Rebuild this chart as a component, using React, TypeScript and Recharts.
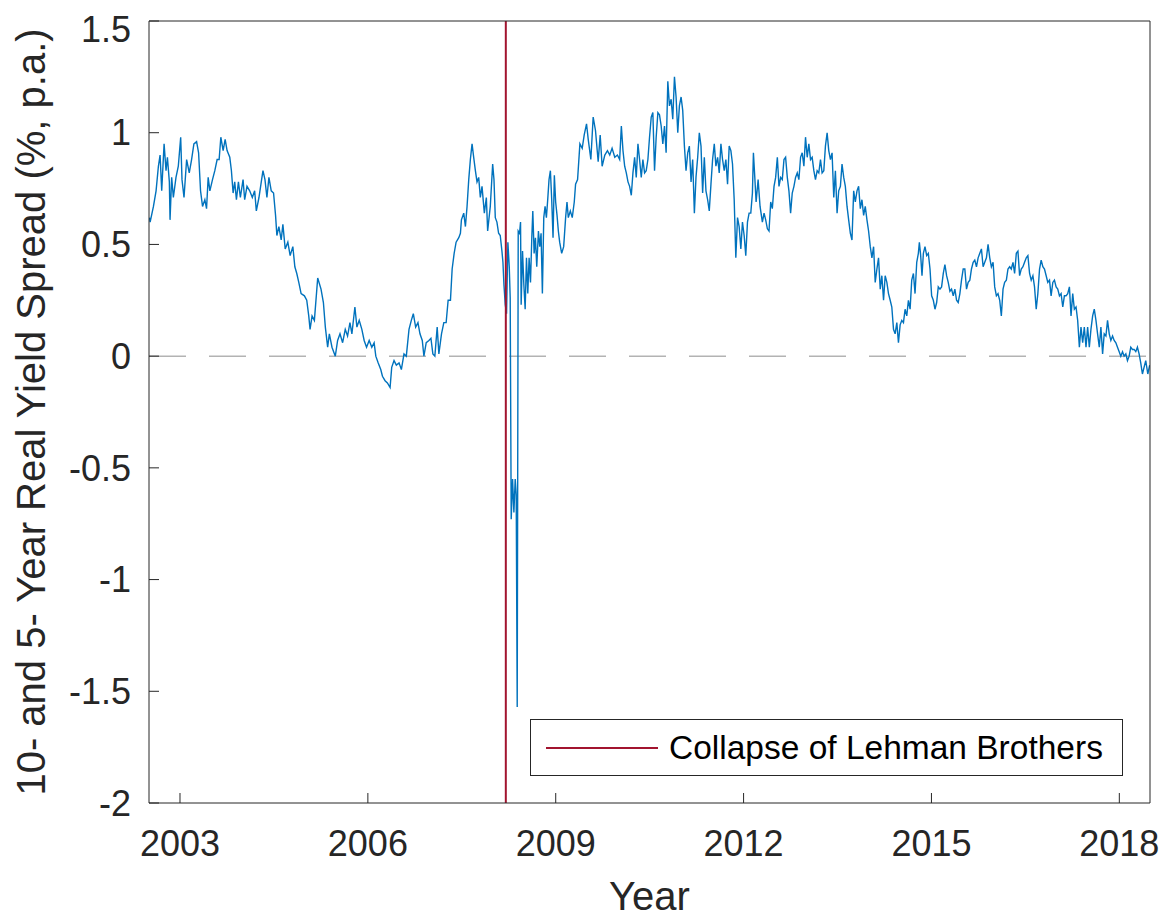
import { LineChart, Line, XAxis, YAxis, ReferenceLine, Legend } from 'recharts';

const FONT = '"Liberation Sans", Arial, Helvetica, sans-serif';
const AXIS_COLOR = '#262626';
const SPREAD_COLOR = '#0072BD';
const LEHMAN_COLOR = '#A2142F';

const yearTicks = [2003, 2006, 2009, 2012, 2015, 2018];
const spreadTicks = [-2, -1.5, -1, -0.5, 0, 0.5, 1, 1.5];
const yearDomain = [2002.505, 2018.49];
const spreadDomain = [-2, 1.5];
const lehmanCollapse = 2008.203;

// [decimal year, spread in % p.a.]
const spread2002to2005: [number, number][] = [
  [2002.512, 0.62], [2002.523, 0.6], [2002.576, 0.67], [2002.618, 0.74], [2002.655, 0.85],
  [2002.682, 0.9], [2002.708, 0.74], [2002.746, 0.95], [2002.777, 0.83], [2002.799, 0.89],
  [2002.83, 0.78], [2002.841, 0.61], [2002.867, 0.8], [2002.894, 0.71], [2002.936, 0.8],
  [2002.973, 0.85], [2003.011, 0.98], [2003.032, 0.79], [2003.064, 0.71], [2003.106, 0.88],
  [2003.148, 0.82], [2003.185, 0.88], [2003.222, 0.95], [2003.265, 0.96], [2003.297, 0.91],
  [2003.328, 0.74], [2003.36, 0.67], [2003.397, 0.7], [2003.424, 0.66], [2003.45, 0.8],
  [2003.477, 0.74], [2003.519, 0.79], [2003.556, 0.83], [2003.593, 0.88], [2003.625, 0.88],
  [2003.652, 0.98], [2003.689, 0.92], [2003.721, 0.97], [2003.752, 0.92], [2003.795, 0.89],
  [2003.821, 0.83], [2003.848, 0.73], [2003.874, 0.78], [2003.901, 0.7], [2003.933, 0.78],
  [2003.964, 0.71], [2004.007, 0.79], [2004.033, 0.7], [2004.07, 0.76], [2004.113, 0.74],
  [2004.155, 0.71], [2004.192, 0.74], [2004.219, 0.65], [2004.261, 0.71], [2004.298, 0.78],
  [2004.325, 0.83], [2004.357, 0.79], [2004.388, 0.71], [2004.42, 0.8], [2004.457, 0.74],
  [2004.494, 0.73], [2004.526, 0.63], [2004.547, 0.54], [2004.579, 0.58], [2004.616, 0.52],
  [2004.643, 0.59], [2004.68, 0.48], [2004.722, 0.51], [2004.759, 0.45], [2004.802, 0.49],
  [2004.834, 0.4], [2004.865, 0.37], [2004.897, 0.33], [2004.934, 0.28], [2004.987, 0.27],
  [2005.024, 0.25], [2005.056, 0.18], [2005.077, 0.12], [2005.109, 0.18], [2005.146, 0.16],
];

const spread2005to2007: [number, number][] = [
  [2005.199, 0.35], [2005.252, 0.3], [2005.29, 0.24], [2005.321, 0.13], [2005.358, 0.04],
  [2005.385, 0.1], [2005.427, 0.04], [2005.48, 0.0], [2005.517, 0.07], [2005.555, 0.1],
  [2005.597, 0.06], [2005.639, 0.12], [2005.676, 0.09], [2005.714, 0.15], [2005.745, 0.1],
  [2005.793, 0.22], [2005.825, 0.13], [2005.862, 0.16], [2005.904, 0.12], [2005.941, 0.07],
  [2005.979, 0.04], [2006.021, 0.07], [2006.063, 0.04], [2006.1, 0.06], [2006.127, 0.0],
  [2006.164, -0.03], [2006.206, -0.06], [2006.233, -0.09], [2006.275, -0.11], [2006.312, -0.12],
  [2006.355, -0.14], [2006.381, -0.05], [2006.418, -0.02], [2006.455, -0.04], [2006.498, -0.03],
  [2006.535, -0.06], [2006.577, 0.01], [2006.614, 0.0], [2006.657, 0.12], [2006.694, 0.16],
  [2006.726, 0.19], [2006.763, 0.13], [2006.8, 0.15], [2006.832, 0.1], [2006.869, 0.07],
  [2006.895, 0.0], [2006.932, 0.06], [2006.975, 0.07], [2007.007, 0.08], [2007.038, 0.01],
  [2007.07, 0.0], [2007.107, 0.13], [2007.134, 0.01], [2007.176, 0.1], [2007.213, 0.15],
  [2007.25, 0.15], [2007.282, 0.25], [2007.319, 0.25], [2007.346, 0.39], [2007.378, 0.46],
  [2007.409, 0.51], [2007.452, 0.53], [2007.478, 0.55], [2007.494, 0.61], [2007.531, 0.64],
  [2007.558, 0.58], [2007.584, 0.67], [2007.611, 0.79], [2007.637, 0.88], [2007.664, 0.95],
  [2007.69, 0.89], [2007.717, 0.83], [2007.743, 0.78], [2007.77, 0.8], [2007.796, 0.71],
  [2007.823, 0.76], [2007.86, 0.64], [2007.892, 0.71], [2007.913, 0.56],
];

const spread2008to2009: [number, number][] = [
  [2007.955, 0.67], [2007.993, 0.86], [2008.014, 0.79], [2008.035, 0.62], [2008.061, 0.6],
  [2008.088, 0.55], [2008.114, 0.54], [2008.141, 0.47], [2008.157, 0.42], [2008.173, 0.32],
  [2008.194, 0.23], [2008.215, 0.19], [2008.236, 0.51], [2008.258, 0.4], [2008.273, 0.26],
  [2008.289, -0.73], [2008.311, -0.55], [2008.332, -0.7], [2008.353, -0.55], [2008.369, -0.62],
  [2008.385, -1.57], [2008.401, 0.56], [2008.422, 0.55], [2008.438, 0.6], [2008.448, 0.23],
  [2008.47, 0.47], [2008.491, 0.32], [2008.512, 0.21], [2008.533, 0.44], [2008.554, 0.28],
  [2008.575, 0.44], [2008.597, 0.33], [2008.618, 0.53], [2008.634, 0.65], [2008.655, 0.46],
  [2008.676, 0.53], [2008.697, 0.4], [2008.724, 0.56], [2008.745, 0.49], [2008.766, 0.55],
  [2008.787, 0.28], [2008.809, 0.62], [2008.83, 0.67], [2008.851, 0.62], [2008.872, 0.7],
  [2008.893, 0.79], [2008.915, 0.83], [2008.936, 0.7], [2008.957, 0.53], [2008.978, 0.81],
  [2008.999, 0.69], [2009.021, 0.63], [2009.042, 0.56], [2009.063, 0.51], [2009.095, 0.46],
  [2009.127, 0.49], [2009.158, 0.62], [2009.18, 0.69], [2009.201, 0.62], [2009.233, 0.65],
  [2009.264, 0.62], [2009.296, 0.69], [2009.317, 0.77], [2009.349, 0.79], [2009.386, 0.95],
  [2009.423, 0.93], [2009.455, 0.99], [2009.492, 1.04], [2009.519, 0.97], [2009.561, 0.88],
  [2009.598, 1.07], [2009.635, 1.01], [2009.678, 0.87], [2009.71, 0.99], [2009.741, 0.85],
  [2009.784, 0.9], [2009.826, 0.92], [2009.863, 0.9], [2009.9, 0.93], [2009.943, 0.89],
  [2009.985, 0.9],
];

const spread2010to2012: [number, number][] = [
  [2010.021, 0.88], [2010.048, 1.03], [2010.074, 0.92], [2010.101, 0.85], [2010.127, 0.82],
  [2010.154, 0.78], [2010.18, 0.76], [2010.207, 0.72], [2010.233, 0.82], [2010.26, 0.89],
  [2010.286, 0.8], [2010.313, 0.95], [2010.339, 0.88], [2010.366, 0.8], [2010.392, 0.88],
  [2010.419, 0.82], [2010.445, 0.83], [2010.472, 0.88], [2010.498, 0.98], [2010.525, 1.07],
  [2010.551, 1.09], [2010.578, 0.83], [2010.604, 0.98], [2010.631, 1.09], [2010.657, 1.08],
  [2010.684, 1.03], [2010.71, 0.95], [2010.737, 1.03], [2010.763, 0.91], [2010.79, 1.23],
  [2010.816, 1.12], [2010.843, 1.15], [2010.869, 1.06], [2010.896, 1.25], [2010.922, 1.16],
  [2010.949, 1.0], [2010.975, 1.12], [2011.002, 1.16], [2011.028, 1.1], [2011.055, 0.94],
  [2011.081, 0.83], [2011.108, 0.91], [2011.134, 0.94], [2011.161, 0.78], [2011.187, 0.88],
  [2011.214, 0.64], [2011.24, 0.8], [2011.267, 0.89], [2011.293, 1.0], [2011.32, 0.94],
  [2011.346, 0.73], [2011.373, 0.89], [2011.399, 0.74], [2011.426, 0.7], [2011.452, 0.65],
  [2011.479, 0.77], [2011.505, 0.88], [2011.532, 0.95], [2011.558, 0.85], [2011.585, 0.89],
  [2011.611, 0.82], [2011.638, 0.95], [2011.664, 0.88], [2011.691, 0.83], [2011.717, 0.88],
  [2011.744, 0.77], [2011.77, 0.94], [2011.797, 0.92], [2011.823, 0.86], [2011.85, 0.7],
  [2011.876, 0.44], [2011.903, 0.62], [2011.929, 0.58], [2011.956, 0.48], [2011.982, 0.6],
  [2012.009, 0.54], [2012.035, 0.45], [2012.062, 0.6], [2012.088, 0.64], [2012.115, 0.64],
  [2012.141, 0.73],
];

const spread2012to2015: [number, number][] = [
  [2012.157, 0.91], [2012.179, 0.8], [2012.2, 0.69], [2012.232, 0.79], [2012.263, 0.67],
  [2012.3, 0.6], [2012.327, 0.64], [2012.353, 0.61], [2012.38, 0.57], [2012.406, 0.56],
  [2012.433, 0.69], [2012.459, 0.66], [2012.486, 0.76], [2012.512, 0.8], [2012.539, 0.89],
  [2012.565, 0.76], [2012.592, 0.8], [2012.618, 0.79], [2012.645, 0.88], [2012.671, 0.89],
  [2012.698, 0.8], [2012.724, 0.74], [2012.751, 0.64], [2012.777, 0.73], [2012.804, 0.76],
  [2012.83, 0.8], [2012.857, 0.82], [2012.883, 0.79], [2012.91, 0.89], [2012.936, 0.91],
  [2012.963, 0.85], [2012.989, 0.98], [2013.016, 0.89], [2013.042, 0.95], [2013.069, 0.88],
  [2013.095, 0.89], [2013.122, 0.83], [2013.148, 0.79], [2013.175, 0.83], [2013.201, 0.82],
  [2013.228, 0.88], [2013.254, 0.82], [2013.281, 0.83], [2013.307, 0.94], [2013.334, 1.0],
  [2013.36, 0.92], [2013.387, 0.88], [2013.413, 0.91], [2013.44, 0.71], [2013.466, 0.83],
  [2013.493, 0.64], [2013.519, 0.74], [2013.546, 0.76], [2013.572, 0.86], [2013.599, 0.8],
  [2013.625, 0.76], [2013.652, 0.67], [2013.678, 0.61], [2013.705, 0.55], [2013.731, 0.52],
  [2013.758, 0.74], [2013.784, 0.69], [2013.811, 0.74], [2013.837, 0.76], [2013.864, 0.66],
  [2013.89, 0.7], [2013.917, 0.63], [2013.943, 0.67], [2013.97, 0.61], [2013.996, 0.56],
  [2014.023, 0.49], [2014.049, 0.44], [2014.076, 0.49], [2014.102, 0.33], [2014.129, 0.39],
  [2014.155, 0.44], [2014.182, 0.3], [2014.208, 0.36], [2014.235, 0.25], [2014.261, 0.36],
  [2014.288, 0.33], [2014.314, 0.28], [2014.341, 0.25], [2014.367, 0.22], [2014.394, 0.12],
  [2014.42, 0.1], [2014.447, 0.15], [2014.473, 0.06], [2014.5, 0.14], [2014.526, 0.16],
  [2014.553, 0.15], [2014.579, 0.21], [2014.606, 0.18], [2014.632, 0.25], [2014.659, 0.21],
  [2014.685, 0.34], [2014.712, 0.37], [2014.738, 0.28], [2014.765, 0.42], [2014.791, 0.46],
  [2014.807, 0.51], [2014.828, 0.45], [2014.849, 0.36], [2014.871, 0.46], [2014.897, 0.49],
  [2014.924, 0.45], [2014.95, 0.46], [2014.977, 0.39], [2015.003, 0.27], [2015.03, 0.25],
  [2015.056, 0.21], [2015.083, 0.24],
];

const spread2015to2018: [number, number][] = [
  [2015.109, 0.31], [2015.136, 0.3], [2015.162, 0.31], [2015.189, 0.37], [2015.215, 0.41],
  [2015.242, 0.36], [2015.268, 0.33], [2015.295, 0.29], [2015.321, 0.3], [2015.348, 0.27],
  [2015.374, 0.3], [2015.401, 0.25], [2015.427, 0.24], [2015.454, 0.28], [2015.48, 0.34],
  [2015.507, 0.39], [2015.533, 0.39], [2015.56, 0.3], [2015.586, 0.33], [2015.613, 0.34],
  [2015.639, 0.39], [2015.666, 0.42], [2015.692, 0.43], [2015.719, 0.4], [2015.745, 0.44],
  [2015.772, 0.46], [2015.798, 0.48], [2015.825, 0.4], [2015.851, 0.42], [2015.878, 0.44],
  [2015.904, 0.5], [2015.931, 0.44], [2015.957, 0.4], [2015.984, 0.42], [2016.01, 0.31],
  [2016.037, 0.27], [2016.063, 0.28], [2016.09, 0.25], [2016.116, 0.18], [2016.143, 0.3],
  [2016.169, 0.33], [2016.196, 0.34], [2016.222, 0.39], [2016.249, 0.4], [2016.275, 0.39],
  [2016.302, 0.42], [2016.328, 0.37], [2016.355, 0.46], [2016.381, 0.47], [2016.408, 0.36],
  [2016.434, 0.39], [2016.461, 0.4], [2016.487, 0.42], [2016.514, 0.44], [2016.54, 0.45],
  [2016.567, 0.37], [2016.593, 0.34], [2016.62, 0.36], [2016.646, 0.31], [2016.673, 0.21],
  [2016.699, 0.28], [2016.726, 0.39], [2016.752, 0.43], [2016.779, 0.4], [2016.805, 0.39],
  [2016.832, 0.36], [2016.858, 0.33], [2016.885, 0.34], [2016.911, 0.27], [2016.938, 0.33],
  [2016.964, 0.34], [2016.991, 0.31], [2017.017, 0.3], [2017.044, 0.27], [2017.07, 0.28],
  [2017.097, 0.22], [2017.123, 0.27], [2017.15, 0.27], [2017.176, 0.28], [2017.203, 0.31],
  [2017.229, 0.18], [2017.256, 0.28], [2017.282, 0.21], [2017.309, 0.22], [2017.335, 0.16],
  [2017.362, 0.04], [2017.388, 0.13], [2017.415, 0.06], [2017.441, 0.13], [2017.468, 0.04],
  [2017.494, 0.13], [2017.521, 0.04], [2017.547, 0.12], [2017.574, 0.18], [2017.6, 0.21],
  [2017.627, 0.16], [2017.653, 0.1], [2017.68, 0.04], [2017.706, 0.13], [2017.733, 0.01],
  [2017.759, 0.1], [2017.786, 0.09], [2017.812, 0.16], [2017.839, 0.1], [2017.865, 0.07],
  [2017.892, 0.09], [2017.918, 0.07], [2017.945, 0.06], [2017.971, 0.04], [2017.998, 0.02],
  [2018.024, 0.0], [2018.051, 0.02], [2018.077, 0.0], [2018.104, 0.01], [2018.13, -0.02],
  [2018.157, 0.0], [2018.183, 0.04], [2018.21, 0.03], [2018.236, 0.03], [2018.263, 0.02],
  [2018.289, 0.04], [2018.316, 0.01], [2018.342, -0.03], [2018.369, -0.08], [2018.395, -0.05],
  [2018.422, -0.02], [2018.455, -0.08], [2018.485, -0.04],
];

const data = [
  ...spread2002to2005,
  ...spread2005to2007,
  ...spread2008to2009,
  ...spread2010to2012,
  ...spread2012to2015,
  ...spread2015to2018,
].map(([year, spread]) => ({ year, spread }));

const tickStyle = { fill: AXIS_COLOR, fontSize: 36, fontFamily: FONT };

function YearLabel(props: any) {
  const vb = props.viewBox ?? { x: 141, y: 795, width: 1001, height: 114 };
  return (
    <text
      x={vb.x + vb.width / 2}
      y={vb.y + vb.height - 7}
      textAnchor="middle"
      fill={AXIS_COLOR}
      fontSize={40}
      fontFamily={FONT}
    >
      Year
    </text>
  );
}

function SpreadLabel(props: any) {
  const vb = props.viewBox ?? { x: 0, y: 13, width: 141, height: 782 };
  const x = vb.x + 36.6;
  const y = vb.y + vb.height / 2;
  return (
    <text
      x={x}
      y={y}
      transform={`rotate(-90, ${x}, ${y})`}
      textAnchor="middle"
      fill={AXIS_COLOR}
      fontSize={40}
      fontFamily={FONT}
    >
      10- and 5- Year Real Yield Spread (%, p.a.)
    </text>
  );
}

function LehmanLegend() {
  return (
    <div
      style={{
        width: 593,
        height: 57,
        boxSizing: 'border-box',
        border: `1px solid ${AXIS_COLOR}`,
        background: '#fff',
        display: 'flex',
        alignItems: 'center',
      }}
    >
      <svg width={138} height={10} style={{ flex: 'none' }}>
        <line x1={15} x2={127} y1={5} y2={5} stroke={LEHMAN_COLOR} strokeWidth={2} />
      </svg>
      <span style={{ fontFamily: FONT, fontSize: 33.5, color: '#000', whiteSpace: 'nowrap' }}>
        Collapse of Lehman Brothers
      </span>
    </div>
  );
}

export default function App() {
  return (
    <div style={{ width: 1163, height: 909, position: 'relative' }}>
      <LineChart width={1163} height={909} data={data} margin={{ top: 0, right: 0, bottom: 0, left: 0 }}>
        <XAxis
          xAxisId="top"
          orientation="top"
          type="number"
          dataKey="year"
          domain={yearDomain}
          ticks={yearTicks}
          height={13}
          tick={false}
          tickSize={-10}
          stroke={AXIS_COLOR}
          allowDataOverflow
        />
        <XAxis
          type="number"
          dataKey="year"
          domain={yearDomain}
          ticks={yearTicks}
          height={114}
          tickSize={-10}
          tickMargin={37}
          tick={tickStyle}
          stroke={AXIS_COLOR}
          allowDataOverflow
          label={YearLabel}
        />
        <YAxis
          type="number"
          domain={spreadDomain}
          ticks={spreadTicks}
          width={141}
          tickSize={-10}
          tickMargin={28}
          tick={tickStyle}
          stroke={AXIS_COLOR}
          allowDataOverflow
          label={SpreadLabel}
        />
        <YAxis
          yAxisId="right"
          orientation="right"
          type="number"
          domain={spreadDomain}
          ticks={spreadTicks}
          width={21}
          tick={false}
          tickSize={-10}
          stroke={AXIS_COLOR}
          allowDataOverflow
        />
        <ReferenceLine y={0} stroke="#b3b3b3" strokeWidth={1.5} strokeDasharray="37 23" />
        <Line
          type="linear"
          dataKey="spread"
          stroke={SPREAD_COLOR}
          strokeWidth={1.4}
          dot={false}
          activeDot={false}
          isAnimationActive={false}
        />
        <ReferenceLine x={lehmanCollapse} stroke={LEHMAN_COLOR} strokeWidth={2} />
        <Legend
          content={LehmanLegend}
          layout="vertical"
          align="center"
          verticalAlign="middle"
          wrapperStyle={{ left: 522, top: 711, width: 593 }}
        />
      </LineChart>
    </div>
  );
}
